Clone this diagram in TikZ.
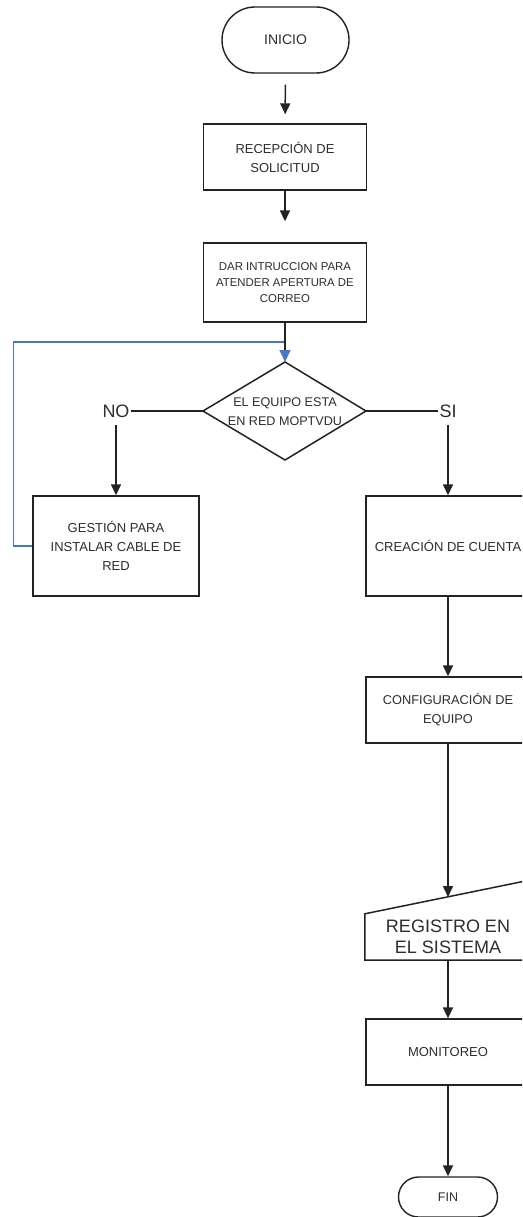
\documentclass[tikz,border=0pt]{standalone}
\usepackage{fontspec}
\setmainfont{Liberation Sans}
\usetikzlibrary{arrows.meta}
\definecolor{ln}{RGB}{35,35,35}
\definecolor{txt}{RGB}{45,45,50}
\definecolor{blu}{RGB}{70,120,200}
\tikzset{
  x=1pt, y=-1pt,
  box/.style={draw=ln, line width=1.4pt, rectangle, align=center, text=txt, inner sep=0pt,
    font=\fontsize{13}{19}\selectfont},
  term/.style={box, rounded corners=#1},
  lbl/.style={text=txt, inner sep=0pt, font=\fontsize{18}{21}\selectfont},
  con/.style={draw=ln, line width=1.5pt},
  arr/.style={con, -{Triangle[width=10pt,length=11pt]}},
}
\begin{document}
\begin{tikzpicture}
\useasboundingbox (0,0) rectangle (522,1217);
\clip (0,0) rectangle (522,1217);
\fill[white] (0,0) rectangle (522,1217);

% nodes
\node[term=33pt, minimum width=127pt, minimum height=66pt, font=\fontsize{14}{19}\selectfont] (inicio) at (285.5,40) {INICIO};
\node[box, minimum width=163pt, minimum height=66pt] (recep) at (285,157) {RECEPCIÓN DE\\SOLICITUD};
\node[box, minimum width=163pt, minimum height=79pt, font=\fontsize{11.4}{16}\selectfont] (dar) at (285,282.5) {DAR INTRUCCION PARA\\ATENDER APERTURA DE\\CORREO};

% decision diamond
\coordinate (dtop) at (285,362);
\coordinate (dleft) at (203,411);
\coordinate (dright) at (366,411);
\coordinate (dbot) at (285,460);
\draw[con] (dleft) -- (dtop) -- (dright) -- (dbot) -- cycle;
\node[text=txt, align=center, inner sep=0pt, font=\fontsize{12.6}{19}\selectfont] (dec) at (285,411.5) {EL EQUIPO ESTA\\EN RED MOPTVDU};

\node[lbl] (no) at (116,411) {NO};
\node[lbl] (si) at (448,411) {SI};

\node[box, minimum width=166pt, minimum height=100pt] (gestion) at (116,546) {GESTIÓN PARA\\INSTALAR CABLE DE\\RED};
\node[box, minimum width=164pt, minimum height=100pt] (creacion) at (448,546) {CREACIÓN DE CUENTA};
\node[box, minimum width=164pt, minimum height=66pt, font=\fontsize{12.8}{19}\selectfont] (config) at (448,710) {CONFIGURACIÓN DE\\EQUIPO};

% manual input
\node[lbl, rectangle, minimum width=166pt, minimum height=46pt, align=center] (reg) at (448,937) {REGISTRO EN\\EL SISTEMA};
\draw[con] (reg.north west) -- ([yshift=34pt]reg.north east) -- (reg.south east) -- (reg.south west) -- cycle;
\coordinate (regtop) at (448,897);

\node[box, minimum width=164pt, minimum height=66pt] (mon) at (448,1052) {MONITOREO};
\node[term=20pt, minimum width=99pt, minimum height=40pt, font=\fontsize{12.5}{19}\selectfont] (fin) at (448,1197) {FIN};

% connectors
\draw[arr, shorten <=11pt, shorten >=9pt] (inicio) -- (recep);
\draw[arr, shorten >=21pt] (recep) -- (dar);
\draw[blu, line width=1.4pt] (gestion.west) -- ++(-19,0) |- ([yshift=20pt]dtop);
\draw[con, -{Triangle[width=11pt,length=12pt,color=blu]}] (dar) -- (dtop);
\draw[con] (dleft) -- ([xshift=1pt]no.east);
\draw[con] (dright) -- ([xshift=-1pt]si.west);
\draw[arr, shorten <=7pt] (no.south) -- (gestion);
\draw[arr, shorten <=7pt] (si.south) -- (creacion);
\draw[arr] (creacion) -- (config);
\draw[arr] (config) -- (regtop);
\draw[arr] (reg) -- (mon);
\draw[arr] (mon) -- (fin);
\end{tikzpicture}
\end{document}
